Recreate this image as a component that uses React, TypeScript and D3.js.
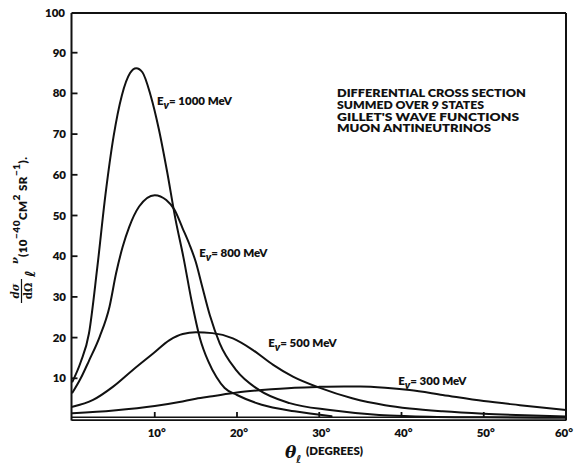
import React from "react";
import * as d3 from "d3";

const W = 577;
const H = 466;

// Differential cross section (10^-40 cm^2 sr^-1) vs lepton angle (degrees)
const angles1000 = [0, 1, 2, 3, 4, 5, 6, 7, 7.75, 8.5, 9.5, 10.5, 11.5, 12.5, 13.5, 14.5, 15.5, 16.5, 17.5, 18.5, 20, 23, 27, 31.5];
const sigma1000 = [9.2, 14, 21, 37, 55, 69.5, 79.5, 85, 86.2, 85.2, 79.5, 71.2, 60.8, 49.3, 39.6, 28.8, 19.8, 14.2, 10.3, 7.6, 5.9, 3.5, 1.9, 0.7];

const angles800 = [0, 1, 2, 3.3, 4.5, 5.3, 6.1, 6.9, 8.1, 10, 11.4, 12.4, 13.4, 14.2, 15, 15.65, 16.7, 17.9, 19.9, 22.7, 26.4, 31.3, 37.3, 41, 50, 60];
const sigma800 = [6.5, 10, 14.3, 20.2, 27.6, 35.8, 42.3, 47.2, 52.2, 55, 53.8, 51.4, 46.8, 43, 38.5, 33.5, 25.5, 18.6, 12, 7.1, 3.9, 2.2, 1.0, 0.7, 0.4, 0.3];

const angles500 = [0, 2.5, 4.9, 7.3, 9.8, 11.8, 13.4, 15, 17, 19.5, 21.9, 24.4, 26.8, 30, 34, 38, 41, 45, 50, 55, 60];
const sigma500 = [3.0, 4.7, 7.9, 12, 16.1, 19.4, 20.9, 21.3, 21.1, 19.8, 17, 13.3, 10.4, 7.7, 5.1, 3.4, 2.6, 1.9, 1.3, 0.9, 0.6];

const angles300 = [0, 5, 10, 13, 15, 17, 20, 23, 27, 30, 33, 35, 38, 41, 45, 50, 54.4, 60];
const sigma300 = [1.4, 2.1, 3.2, 4.2, 5.0, 5.6, 6.5, 7.1, 7.7, 7.9, 8.0, 8.0, 7.7, 7.1, 5.9, 4.4, 3.4, 2.2];

const yTicks = [10, 20, 30, 40, 50, 60, 70, 80, 90];
const yTopLabel = 100;
const xTicks = [10, 20, 30, 40, 50];
const xTickLabels = [10, 20, 30, 40, 50, 60];

const noteLines = [
  "DIFFERENTIAL CROSS SECTION",
  "SUMMED OVER 9 STATES",
  "GILLET'S WAVE FUNCTIONS",
  "MUON ANTINEUTRINOS",
];
const noteWidths = [189, 147, 182, 154];

const energyLabels = ["1000", "800", "500", "300"];

// label baselines in data units (degrees, value)
const labelAt: [number, number][] = [
  [10.27, 77.1],
  [15.4, 39.9],
  [23.8, 17.6],
  [39.6, 8.35],
];

const FONT = "Lato, 'DejaVu Sans', sans-serif";
const WEIGHT = 800;

const x = d3.scaleLinear().domain([0, 60]).range([72.5, 566]);
const y = d3.scaleLinear().domain([0, 100]).range([419, 12]);

const line = d3
  .line<[number, number]>()
  .x((d) => x(d[0]))
  .y((d) => y(d[1]))
  .curve(d3.curveMonotoneX);

const zip = (a: number[], b: number[]) => a.map((v, i) => [v, b[i]] as [number, number]);

const series = [
  zip(angles1000, sigma1000),
  zip(angles800, sigma800),
  zip(angles500, sigma500),
  zip(angles300, sigma300),
];

function EnergyLabel({ px, py, energy }: { px: number; py: number; energy: string }) {
  return (
    <text x={px} y={py} fontFamily={FONT} fontWeight={WEIGHT} fontSize={11.5} fill="#111">
      E
      <tspan dy={4} fontSize={11} fontStyle="italic">ν</tspan>
      <tspan dy={-4}>{"= " + energy + " MeV"}</tspan>
    </text>
  );
}

export default function App() {
  const left = x(0) - 1;
  const right = x(60);
  const top = y(100) + 1;
  const bottom = y(0);

  return (
    <svg width={W} height={H} style={{ position: "absolute", left: 0, top: 0, background: "#fff" }}>
      <rect width={W} height={H} fill="#fff" />

      {/* frame */}
      <g stroke="#111" fill="none">
        <line x1={left} y1={top} x2={right} y2={top} strokeWidth={2} />
        <line x1={left} y1={top} x2={left} y2={bottom + 1.5} strokeWidth={2} />
        <line x1={right} y1={top} x2={right} y2={bottom + 1.5} strokeWidth={2} />
        <line x1={left} y1={bottom - 1.8} x2={right} y2={bottom - 1.8} strokeWidth={1.4} />
        <line x1={left} y1={bottom + 1.2} x2={right} y2={bottom + 1.2} strokeWidth={1.8} />
      </g>

      {/* y ticks */}
      <g stroke="#111" strokeWidth={1.8}>
        {yTicks.map((t) => (
          <line key={t} x1={left} x2={left + 6} y1={y(t)} y2={y(t)} />
        ))}
      </g>
      <g fontFamily={FONT} fontWeight={WEIGHT} fontSize={11.5} fill="#111" textAnchor="end">
        {yTicks.map((t) => (
          <text key={t} x={66} y={y(t) + 4}>
            {t}
          </text>
        ))}
        <text x={65} y={y(yTopLabel) + 5}>
          {yTopLabel}
        </text>
      </g>

      {/* x ticks */}
      <g stroke="#111" strokeWidth={1.8}>
        {xTicks.map((t) => (
          <line key={t} x1={x(t)} x2={x(t)} y1={bottom - 1} y2={bottom - 7} />
        ))}
      </g>
      <g fontFamily={FONT} fontWeight={WEIGHT} fontSize={11.5} fill="#111" textAnchor="middle">
        {xTickLabels.map((t) => (
          <text key={t} x={x(t) + 2 - (t === 60 ? 4 : 0)} y={437}>
            {t + "°"}
          </text>
        ))}
      </g>

      {/* x title */}
      <text x={285} y={458} fontFamily="'DejaVu Serif', serif" fontStyle="italic" fontWeight={700} fontSize={17} fill="#111">
        θ
        <tspan dy={5} fontFamily="'DejaVu Sans', sans-serif" fontSize={11} fontStyle="italic">ℓ</tspan>
      </text>
      <text x={306} y={455} fontFamily={FONT} fontWeight={WEIGHT} fontSize={11.5} fill="#111">
        (DEGREES)
      </text>

      {/* y title, rotated */}
      <g transform="translate(27, 304) rotate(-90)" fill="#111">
        <g fontFamily="'DejaVu Serif', serif" fontWeight={700} fontSize={10.5}>
          <text x={13} y={-8} textAnchor="middle" fontStyle="italic">dσ</text>
          <line x1={1} x2={25} y1={-5.5} y2={-5.5} stroke="#111" strokeWidth={1.2} />
          <text x={13} y={5} textAnchor="middle">dΩ</text>
          <text x={27} y={8} fontFamily="'DejaVu Sans', sans-serif" fontStyle="italic" fontSize={14}>ℓ</text>
          <text x={40} y={-9} fontStyle="italic" fontSize={10}>ν</text>
        </g>
        <text x={47} y={0} fontFamily={FONT} fontWeight={WEIGHT} fontSize={11.5} textLength={100} lengthAdjust="spacing">
          (10
          <tspan dy={-7} fontSize={10}>−40</tspan>
          <tspan dy={7}>CM</tspan>
          <tspan dy={-7} fontSize={10}>2</tspan>
          <tspan dy={7}> SR</tspan>
          <tspan dy={-7} fontSize={10}>−1</tspan>
          <tspan dy={7}>).</tspan>
        </text>
      </g>

      {/* curves */}
      <g fill="none" stroke="#111" strokeWidth={2} strokeLinejoin="round" strokeLinecap="round">
        {series.map((s, i) => (
          <path key={i} d={line(s) ?? ""} />
        ))}
      </g>

      {/* energy labels */}
      {energyLabels.map((e, i) => (
        <EnergyLabel key={e} px={x(labelAt[i][0])} py={y(labelAt[i][1])} energy={e} />
      ))}

      {/* notes */}
      <g fontFamily={FONT} fontWeight={WEIGHT} fontSize={12} fill="#111">
        {noteLines.map((l, i) => (
          <text key={i} x={337} y={96.7 + i * 11.9} textLength={noteWidths[i]} lengthAdjust="spacingAndGlyphs">
            {l}
          </text>
        ))}
      </g>
    </svg>
  );
}
